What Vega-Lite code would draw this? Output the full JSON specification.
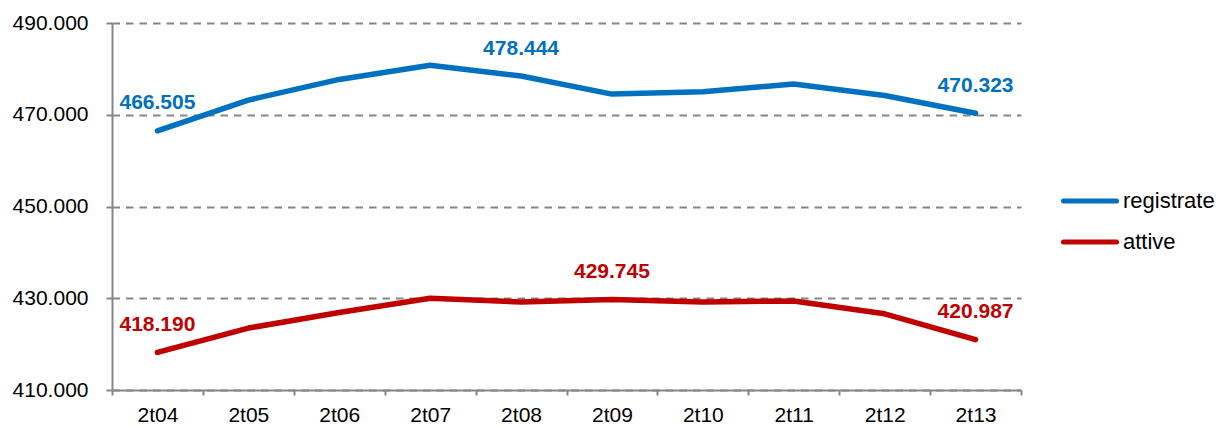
{
  "$schema": "https://vega.github.io/schema/vega-lite/v6.json",
  "width": 909,
  "height": 367,
  "autosize": {"type": "none"},
  "padding": {"left": 112, "top": 23, "right": 196, "bottom": 36},
  "background": "white",
  "config": {
    "view": {"stroke": null},
    "font": "Liberation Sans",
    "locale": {"number": {"decimal": ",", "thousands": ".", "grouping": [3], "currency": ["€", ""]}}
  },
  "data": {
    "values": [
      {"periodo": "2t04", "serie": "registrate", "valore": 466505},
      {"periodo": "2t05", "serie": "registrate", "valore": 473200},
      {"periodo": "2t06", "serie": "registrate", "valore": 477700},
      {"periodo": "2t07", "serie": "registrate", "valore": 480800},
      {"periodo": "2t08", "serie": "registrate", "valore": 478444},
      {"periodo": "2t09", "serie": "registrate", "valore": 474500},
      {"periodo": "2t10", "serie": "registrate", "valore": 475000},
      {"periodo": "2t11", "serie": "registrate", "valore": 476700},
      {"periodo": "2t12", "serie": "registrate", "valore": 474200},
      {"periodo": "2t13", "serie": "registrate", "valore": 470323},
      {"periodo": "2t04", "serie": "attive", "valore": 418190},
      {"periodo": "2t05", "serie": "attive", "valore": 423500},
      {"periodo": "2t06", "serie": "attive", "valore": 426900},
      {"periodo": "2t07", "serie": "attive", "valore": 430000},
      {"periodo": "2t08", "serie": "attive", "valore": 429200},
      {"periodo": "2t09", "serie": "attive", "valore": 429745},
      {"periodo": "2t10", "serie": "attive", "valore": 429200},
      {"periodo": "2t11", "serie": "attive", "valore": 429400},
      {"periodo": "2t12", "serie": "attive", "valore": 426600},
      {"periodo": "2t13", "serie": "attive", "valore": 420987}
    ]
  },
  "encoding": {
    "x": {
      "field": "periodo",
      "type": "ordinal",
      "sort": null,
      "bandPosition": 0.5,
      "scale": {"type": "band", "paddingInner": 0, "paddingOuter": 0},
      "axis": {
        "title": null,
        "labelAngle": 0,
        "tickBand": "extent",
        "tickSize": 5,
        "tickWidth": 2,
        "tickColor": "#868686",
        "domainColor": "#868686",
        "domainWidth": 2,
        "labelPadding": 9,
        "labelFontSize": 21,
        "labelColor": "black",
        "grid": false
      }
    },
    "y": {
      "field": "valore",
      "type": "quantitative",
      "scale": {"domain": [410000, 490000], "zero": false, "nice": false},
      "axis": {
        "title": null,
        "values": [410000, 430000, 450000, 470000, 490000],
        "format": ",d",
        "labelFontSize": 21,
        "labelColor": "black",
        "tickSize": 6,
        "tickWidth": 2,
        "tickColor": "#868686",
        "labelPadding": 18,
        "domainColor": "#868686",
        "domainWidth": 2,
        "grid": true,
        "gridColor": "#868686",
        "gridDash": [7.5, 6],
        "gridWidth": 2
      }
    },
    "color": {
      "field": "serie",
      "type": "nominal",
      "scale": {"domain": ["registrate", "attive"], "range": ["#0070C0", "#C00000"]},
      "legend": {
        "orient": "none",
        "legendX": 949,
        "legendY": 149,
        "title": null,
        "symbolType": "stroke",
        "symbolSize": 2809,
        "symbolStrokeWidth": 5,
        "labelFontSize": 22,
        "labelColor": "black",
        "labelOffset": 4,
        "rowPadding": 1,
        "encode": {"symbols": {"update": {"strokeCap": {"value": "round"}}}}
      }
    }
  },
  "layer": [
    {
      "mark": {"type": "line", "strokeWidth": 5.5, "strokeCap": "round", "strokeJoin": "round"}
    },
    {
      "transform": [
        {"filter": "datum.periodo == '2t04' || datum.periodo == '2t13' || (datum.serie == 'registrate' && datum.periodo == '2t08') || (datum.serie == 'attive' && datum.periodo == '2t09')"}
      ],
      "mark": {"type": "text", "dy": -21.5, "baseline": "alphabetic", "fontWeight": "bold", "fontSize": 21},
      "encoding": {
        "text": {"field": "valore", "type": "quantitative", "format": ",d"}
      }
    }
  ]
}
